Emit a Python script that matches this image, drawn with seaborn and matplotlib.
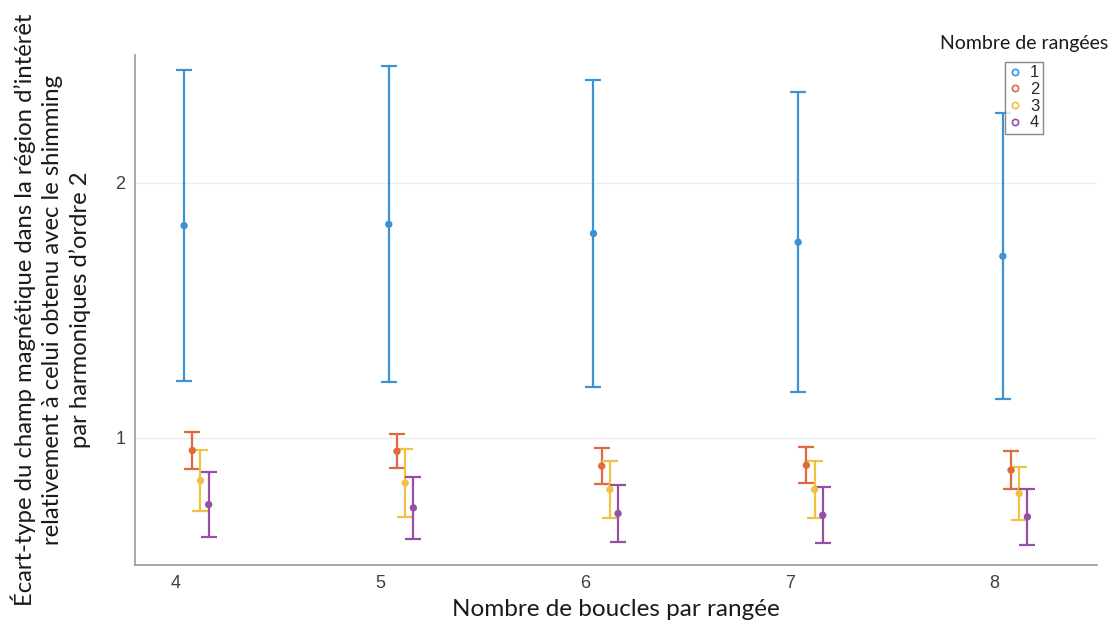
import numpy as np
import pandas as pd
import seaborn as sns
import matplotlib
matplotlib.use("Agg")
import matplotlib.pyplot as plt
from matplotlib.lines import Line2D

# ---- data ----
boucles = [4, 5, 6, 7, 8]
rangees = ["1", "2", "3", "4"]
moy_1 = [1.831, 1.836, 1.800, 1.766, 1.711]
err_1 = [0.610, 0.620, 0.601, 0.589, 0.560]
moy_2 = [0.949, 0.946, 0.888, 0.891, 0.872]
err_2 = [0.073, 0.066, 0.071, 0.071, 0.074]
moy_3 = [0.831, 0.822, 0.796, 0.796, 0.780]
err_3 = [0.119, 0.133, 0.110, 0.110, 0.104]
moy_4 = [0.737, 0.724, 0.702, 0.695, 0.689]
err_4 = [0.128, 0.123, 0.110, 0.110, 0.110]

colors = ["#3d92d4", "#e06a3e", "#f1c142", "#9550a4"]

rows = []
for i, (r, m, e) in enumerate(zip(rangees, [moy_1, moy_2, moy_3, moy_4],
                                   [err_1, err_2, err_3, err_4])):
    for b, mm, ee in zip(boucles, m, e):
        rows.append({"boucles": b, "pos": b + 0.04 * (i + 1), "rangees": r,
                     "moy": mm, "err": ee})
df = pd.DataFrame(rows)

sns.set_theme(style="white")
plt.rcParams["font.family"] = ["Liberation Sans", "DejaVu Sans"]

fig = plt.figure(figsize=(11.14, 6.26), dpi=100)
ax = fig.add_axes([135 / 1114, 1 - 565 / 626, (1097 - 135) / 1114, (565 - 55) / 626])

for i, r in enumerate(rangees):
    sub = df[df["rangees"] == r]
    ax.errorbar(sub["pos"], sub["moy"], yerr=sub["err"], fmt="none",
                ecolor=colors[i], elinewidth=1.6, capsize=6, capthick=1.6, zorder=2)

sns.scatterplot(data=df, x="pos", y="moy", hue="rangees", palette=colors,
                hue_order=rangees, s=28, edgecolor="none", legend=False, ax=ax, zorder=3)

ax.set_xlim(3.8, 8.5)
ax.set_ylim(0.5, 2.5)
ax.set_xticks(boucles)
ax.set_xticklabels([str(b) for b in boucles])
ax.set_yticks([1, 2])
ax.set_yticklabels(["1", "2"])
ax.yaxis.grid(True, color="#ebebeb", linewidth=1.0)
ax.xaxis.grid(False)
ax.set_axisbelow(True)
for s in ["top", "right"]:
    ax.spines[s].set_visible(False)
for s in ["left", "bottom"]:
    ax.spines[s].set_color("#9a9a9a")
    ax.spines[s].set_linewidth(1.2)
ax.tick_params(axis="both", direction="in", length=5, width=1, color="#9a9a9a",
               labelsize=13, labelcolor="#404040", pad=7)

label_font = ["Lato", "DejaVu Sans"]
ax.set_xlabel("Nombre de boucles par rangée", fontsize=17.5, family=label_font,
              color="#1a1a1a", labelpad=5)
ax.set_ylabel("Écart-type du champ magnétique dans la région d’intérêt\n"
              "relativement à celui obtenu avec le shimming\n"
              "par harmoniques d’ordre 2", fontsize=17.2, family=label_font,
              color="#1a1a1a", multialignment="center", linespacing=1.36)
ax.yaxis.set_label_coords(-44 / 962, 0.5)

handles = [Line2D([], [], linestyle="none", marker="o", markersize=4.5,
                  markerfacecolor="none", markeredgecolor=c, markeredgewidth=1.2)
           for c in colors]
leg = ax.legend(handles, rangees, loc="upper left",
                bbox_to_anchor=((1005 - 135) / 962, 1 - (62 - 55) / 510),
                frameon=True, fontsize=12, handlelength=0.8, handletextpad=0.5,
                borderpad=0.2, labelspacing=0.1, borderaxespad=0, fancybox=False)
leg.get_frame().set_edgecolor("#6a6a6a")
leg.get_frame().set_linewidth(1.0)
leg.set_zorder(5)
fig.text(1024 / 1114, 1 - 43 / 626, "Nombre de rangées", ha="center", va="center",
         fontsize=14, family=label_font, color="#1a1a1a")

fig.savefig("out.png", dpi=100)
